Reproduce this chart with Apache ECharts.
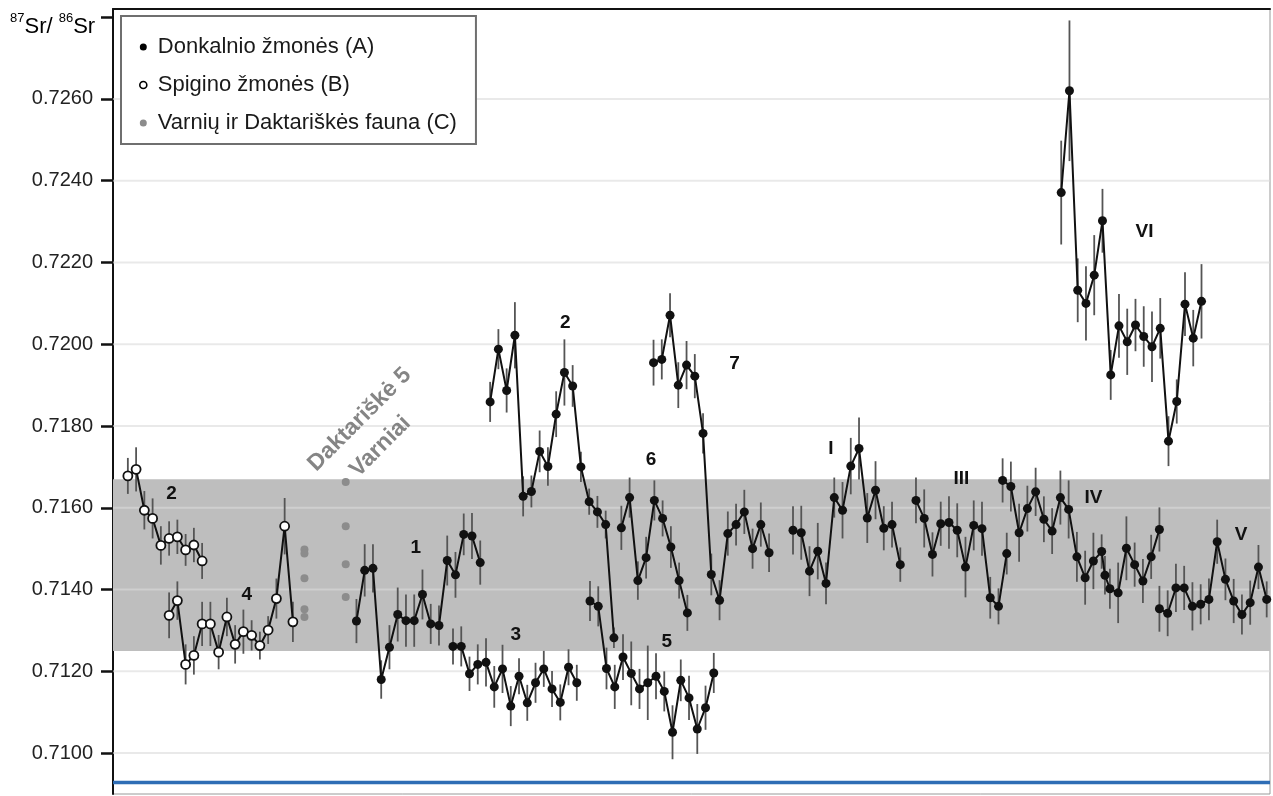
<!DOCTYPE html>
<html>
<head>
<meta charset="utf-8">
<title>87Sr/86Sr</title>
<script src="https://cdn.jsdelivr.net/npm/echarts@6/dist/echarts.min.js"></script>
<style>
  html, body { margin: 0; padding: 0; background: #fff; }
  #chart { width: 1273px; height: 796px; }
</style>
</head>
<body>
<div id="chart"></div>
<script>
// ---- Y axis ticks ----
const yTickValues  = [0.7100, 0.7120, 0.7140, 0.7160, 0.7180, 0.7200, 0.7220, 0.7240, 0.7260, 0.7280];
const yLabelValues = [0.7100, 0.7120, 0.7140, 0.7160, 0.7180, 0.7200, 0.7220, 0.7240, 0.7260];

// ---- Reference band and baseline ----
const bandRange = [0.7125, 0.7167];
const baselineValue = 0.70928;

// ---- Spigino žmonės (B) ----
const spigino2Start = 1.8;
const spigino2 =    [0.71678, 0.71694, 0.71594, 0.71574, 0.71508, 0.71525, 0.71529, 0.71497, 0.71509, 0.71470];
const spigino2Err = [0.00044, 0.00054, 0.00047, 0.00049, 0.00047, 0.00042, 0.00042, 0.00039, 0.00042, 0.00044];
const spigino4Start = 6.8;
const spigino4 =    [0.71337, 0.71373, 0.71217, 0.71239, 0.71316, 0.71316, 0.71247, 0.71333, 0.71266, 0.71297, 0.71288, 0.71263, 0.71301, 0.71378, 0.71555, 0.71321];
const spigino4Err = [0.00056, 0.00047, 0.00049, 0.00047, 0.00054, 0.00054, 0.00042, 0.00047, 0.00047, 0.00054, 0.00037, 0.00034, 0.00034, 0.00049, 0.00069, 0.00049];

// ---- Varnių ir Daktariškės fauna (C) ----
const faunaDaktariskePos = 23.2;
const faunaDaktariske = [0.71498, 0.71488, 0.71428, 0.71352, 0.71333];
const faunaVarniaiPos = 28.2;
const faunaVarniai = [0.71663, 0.71555, 0.71462, 0.71382];

// ---- Donkalnio žmonės (A) ----
const donk1Start = 29.5;
const donk1 =    [0.71323, 0.71447, 0.71452, 0.71180, 0.71259, 0.71339, 0.71324, 0.71324, 0.71388, 0.71316, 0.71312, 0.71471, 0.71436, 0.71535, 0.71531, 0.71466];
const donk1Err = [0.00054, 0.00064, 0.00059, 0.00047, 0.00054, 0.00066, 0.00064, 0.00064, 0.00061, 0.00049, 0.00049, 0.00061, 0.00056, 0.00051, 0.00056, 0.00054];

const donk3Start = 41.2;
const donk3 =    [0.71261, 0.71261, 0.71194, 0.71217, 0.71222, 0.71162, 0.71206, 0.71115, 0.71188, 0.71123, 0.71172, 0.71206, 0.71157, 0.71124, 0.71210, 0.71172];
const donk3Err = [0.00044, 0.00049, 0.00042, 0.00049, 0.00059, 0.00051, 0.00059, 0.00049, 0.00044, 0.00044, 0.00049, 0.00044, 0.00044, 0.00044, 0.00044, 0.00044];

const donk2Start = 45.7;
const donk2 =    [0.71859, 0.71988, 0.71887, 0.72022, 0.71628, 0.71640, 0.71738, 0.71701, 0.71829, 0.71931, 0.71898, 0.71700, 0.71615, 0.71590, 0.71559, 0.71282];
const donk2Err = [0.00049, 0.00049, 0.00054, 0.00081, 0.00049, 0.00039, 0.00051, 0.00047, 0.00056, 0.00081, 0.00051, 0.00037, 0.00032, 0.00039, 0.00034, 0.00025];

const donk5Start = 57.8;
const donk5 =    [0.71372, 0.71359, 0.71207, 0.71162, 0.71235, 0.71195, 0.71157, 0.71172, 0.71188, 0.71151, 0.71051, 0.71178, 0.71135, 0.71059, 0.71111, 0.71196];
const donk5Err = [0.00049, 0.00049, 0.00051, 0.00054, 0.00056, 0.00078, 0.00049, 0.00091, 0.00056, 0.00049, 0.00066, 0.00051, 0.00054, 0.00061, 0.00054, 0.00049];

const donk6Start = 61.6;
const donk6 =    [0.71551, 0.71625, 0.71422, 0.71478, 0.71618, 0.71574, 0.71504, 0.71422, 0.71343];
const donk6Err = [0.00054, 0.00049, 0.00047, 0.00051, 0.00049, 0.00044, 0.00051, 0.00044, 0.00044];

const donk7Start = 65.5;
const donk7 =    [0.71955, 0.71963, 0.72071, 0.71900, 0.71949, 0.71922, 0.71782, 0.71437, 0.71374, 0.71537, 0.71559, 0.71590, 0.71500, 0.71559, 0.71490];
const donk7Err = [0.00056, 0.00049, 0.00054, 0.00056, 0.00059, 0.00054, 0.00049, 0.00051, 0.00049, 0.00054, 0.00051, 0.00054, 0.00049, 0.00054, 0.00047];

const donkIStart = 82.4;
const donkI =    [0.71545, 0.71539, 0.71445, 0.71494, 0.71415, 0.71625, 0.71594, 0.71702, 0.71745, 0.71575, 0.71643, 0.71550, 0.71559, 0.71461];
const donkIErr = [0.00059, 0.00066, 0.00061, 0.00069, 0.00051, 0.00049, 0.00069, 0.00069, 0.00076, 0.00061, 0.00071, 0.00054, 0.00056, 0.00042];

const donkIIIStart = 97.3;
const donkIII =    [0.71618, 0.71574, 0.71486, 0.71561, 0.71564, 0.71545, 0.71455, 0.71557, 0.71549, 0.71380, 0.71359, 0.71488];
const donkIIIErr = [0.00056, 0.00071, 0.00054, 0.00054, 0.00064, 0.00066, 0.00074, 0.00061, 0.00066, 0.00051, 0.00044, 0.00051];

// group IV has two closely spaced samples, so its positions are listed
const donkIVPos = [107.8, 108.8, 109.8, 110.8, 111.8, 112.8, 113.8, 114.8, 115.8, 116.8, 117.8, 118.8, 119.8, 120.2, 120.8, 121.8, 122.8, 123.8, 124.8, 125.8, 126.8];
const donkIV =    [0.71667, 0.71652, 0.71539, 0.71598, 0.71639, 0.71572, 0.71543, 0.71625, 0.71596, 0.71480, 0.71429, 0.71470, 0.71493, 0.71435, 0.71402, 0.71392, 0.71501, 0.71461, 0.71421, 0.71480, 0.71547];
const donkIVErr = [0.00054, 0.00061, 0.00071, 0.00056, 0.00059, 0.00056, 0.00056, 0.00066, 0.00071, 0.00061, 0.00066, 0.00069, 0.00042, 0.00047, 0.00049, 0.00074, 0.00078, 0.00054, 0.00054, 0.00054, 0.00054];

const donkVStart = 126.8;
const donkV =    [0.71353, 0.71342, 0.71404, 0.71404, 0.71359, 0.71364, 0.71376, 0.71517, 0.71425, 0.71372, 0.71339, 0.71368, 0.71455, 0.71376];
const donkVErr = [0.00056, 0.00056, 0.00059, 0.00054, 0.00059, 0.00049, 0.00051, 0.00054, 0.00051, 0.00054, 0.00049, 0.00054, 0.00054, 0.00044];

const donkVIStart = 114.9;
const donkVI =    [0.72371, 0.72620, 0.72132, 0.72100, 0.72169, 0.72302, 0.71925, 0.72045, 0.72006, 0.72047, 0.72019, 0.71994, 0.72039, 0.71763, 0.71860, 0.72098, 0.72015, 0.72105];
const donkVIErr = [0.00127, 0.00172, 0.00078, 0.00091, 0.00098, 0.00078, 0.00061, 0.00078, 0.00081, 0.00064, 0.00074, 0.00086, 0.00074, 0.00061, 0.00054, 0.00078, 0.00069, 0.00091];

// ---- Group labels (text, sample position, ratio) ----
const groupLabelText = ['2', '4', '1', '3', '2', '6', '5', '7', 'I', 'III', 'IV', 'V', 'VI'];
const groupLabelPos  = [7.1, 16.2, 36.7, 48.8, 54.8, 65.2, 67.1, 75.3, 87.0, 102.8, 118.8, 136.7, 125.0];
const groupLabelVal  = [0.71635, 0.71388, 0.71502, 0.71290, 0.72053, 0.71718, 0.71272, 0.71953, 0.71745, 0.71671, 0.71625, 0.71533, 0.72275];

// ---- Site names ----
const siteText = ['Daktariškė 5', 'Varniai'];
const sitePos  = [29.9, 32.4];
const siteVal  = [0.71816, 0.71750];

const NAME_A = 'Donkalnio žmonės (A)';
const NAME_B = 'Spigino žmonės (B)';
const NAME_C = 'Varnių ir Daktariškės fauna (C)';
const FONT = '"Liberation Sans", Arial, Helvetica, sans-serif';

function points(start, vals, pos) {
  return vals.map((v, i) => [pos ? pos[i] : start + i, v]);
}
function bars(start, vals, errs, pos) {
  return vals.map((v, i) => [pos ? pos[i] : start + i, v - errs[i], v + errs[i]]);
}

const spiginoGroups = [
  [spigino2Start, spigino2, spigino2Err],
  [spigino4Start, spigino4, spigino4Err]
];
const donkGroups = [
  [donk1Start, donk1, donk1Err],
  [donk3Start, donk3, donk3Err],
  [donk2Start, donk2, donk2Err],
  [donk5Start, donk5, donk5Err],
  [donk6Start, donk6, donk6Err],
  [donk7Start, donk7, donk7Err],
  [donkIStart, donkI, donkIErr],
  [donkIIIStart, donkIII, donkIIIErr],
  [null, donkIV, donkIVErr, donkIVPos],
  [donkVStart, donkV, donkVErr],
  [donkVIStart, donkVI, donkVIErr]
];

const errData = [];
[...spiginoGroups, ...donkGroups].forEach(g => errData.push(...bars(g[0], g[1], g[2], g[3])));

// full-width horizontal rule at a y value
function hRule(color, width) {
  return function (params, api) {
    const cs = params.coordSys;
    const y = api.coord([0, api.value(1)])[1];
    return {
      type: 'line',
      shape: { x1: cs.x, y1: y, x2: cs.x + cs.width, y2: y },
      style: { stroke: color, lineWidth: width }
    };
  };
}

const series = [];

// grey band
series.push({
  type: 'line', data: [], silent: true,
  markArea: {
    silent: true, z: 0.5,
    itemStyle: { color: '#bebebe' },
    data: [[{ yAxis: bandRange[0] }, { yAxis: bandRange[1] }]]
  }
});
// grid lines
series.push({
  type: 'custom', silent: true, z: 1,
  data: yLabelValues.map(v => [0, v]),
  encode: { x: 0, y: 1 },
  renderItem: hRule('rgba(218,218,218,0.6)', 2)
});
// baseline
series.push({
  type: 'custom', silent: true, z: 1,
  data: [[0, baselineValue]],
  encode: { x: 0, y: 1 },
  renderItem: hRule('#2e6db5', 3.5)
});
// error bars
series.push({
  type: 'custom', silent: true, z: 2,
  data: errData,
  encode: { x: 0, y: [1, 2] },
  renderItem: function (params, api) {
    const x = api.value(0);
    const a = api.coord([x, api.value(1)]);
    const b = api.coord([x, api.value(2)]);
    return {
      type: 'line',
      shape: { x1: a[0], y1: a[1], x2: b[0], y2: b[1] },
      style: { stroke: '#555', lineWidth: 1.8 }
    };
  }
});
// Donkalnio groups
donkGroups.forEach(g => {
  series.push({
    name: NAME_A, type: 'line', z: 3,
    data: points(g[0], g[1], g[3]),
    symbol: 'circle', symbolSize: 9, showSymbol: true,
    lineStyle: { color: '#111', width: 2 },
    itemStyle: { color: '#111', borderWidth: 0 }
  });
});
// Spigino groups
spiginoGroups.forEach(g => {
  series.push({
    name: NAME_B, type: 'line', z: 3,
    data: points(g[0], g[1]),
    symbol: 'circle', symbolSize: 9, showSymbol: true,
    lineStyle: { color: '#111', width: 2 },
    itemStyle: { color: '#fff', borderColor: '#111', borderWidth: 1.8 }
  });
});
// fauna
series.push({
  name: NAME_C, type: 'scatter', z: 3,
  symbol: 'circle', symbolSize: 8,
  itemStyle: { color: '#8c8c8c', opacity: 1 },
  data: faunaDaktariske.map(v => [faunaDaktariskePos, v]).concat(faunaVarniai.map(v => [faunaVarniaiPos, v]))
});
// group labels
series.push({
  type: 'scatter', silent: true, z: 4, symbolSize: 0,
  itemStyle: { opacity: 1 },
  data: groupLabelText.map((t, i) => ({ name: t, value: [groupLabelPos[i], groupLabelVal[i]] })),
  label: {
    show: true, position: 'inside', formatter: '{b}', opacity: 1, textBorderWidth: 0,
    fontFamily: FONT, fontWeight: 'bold', fontSize: 19, color: '#111'
  }
});
// site names
series.push({
  type: 'scatter', silent: true, z: 4, symbolSize: 0,
  itemStyle: { opacity: 1 },
  data: siteText.map((t, i) => ({ name: t, value: [sitePos[i], siteVal[i]] })),
  label: {
    show: true, position: 'inside', formatter: '{b}', rotate: 45, opacity: 1, textBorderWidth: 0,
    fontFamily: FONT, fontWeight: 'bold', fontSize: 23, color: '#858585'
  }
});

const chart = echarts.init(document.getElementById('chart'), null, { renderer: 'canvas' });
chart.setOption({
  animation: false,
  backgroundColor: '#fff',
  grid: {
    left: 113, right: 3, top: 9, bottom: 2,
    show: true, borderColor: '#999', borderWidth: 1, backgroundColor: 'transparent'
  },
  xAxis: {
    type: 'value', min: 0, max: 140.2, position: 'top',
    axisLine: { show: true, lineStyle: { color: '#111', width: 2 } },
    axisTick: { show: false }, axisLabel: { show: false }, splitLine: { show: false }
  },
  yAxis: {
    type: 'value', min: 0.709, max: 0.7282,
    axisLine: { show: true, lineStyle: { color: '#111', width: 2 } },
    axisTick: { show: true, length: 12, customValues: yTickValues, lineStyle: { color: '#111', width: 2.5 } },
    axisLabel: {
      customValues: yLabelValues, margin: 20,
      formatter: v => v.toFixed(4),
      fontFamily: FONT, fontSize: 20, color: '#222'
    },
    splitLine: { show: false }
  },
  legend: {
    data: [
      { name: NAME_A, icon: 'circle', itemStyle: { color: '#000', borderWidth: 0 } },
      { name: NAME_B, icon: 'circle', itemStyle: { color: '#fff', borderColor: '#000', borderWidth: 1.6 } },
      { name: NAME_C, icon: 'circle', itemStyle: { color: '#8c8c8c', borderWidth: 0 } }
    ],
    orient: 'vertical', left: 121, top: 16,
    itemWidth: 19, itemHeight: 7, itemGap: 16,
    padding: [20, 19, 10, 18],
    borderColor: '#6f6f6f', borderWidth: 2, backgroundColor: '#fff',
    selectedMode: false,
    textStyle: { fontFamily: FONT, fontSize: 22, color: '#1a1a1a' }
  },
  graphic: [{
    type: 'text', left: 10, top: 12, z: 10,
    style: {
      text: '{s|87}{b|Sr/ }{s|86}{b|Sr}',
      rich: {
        s: { fontFamily: FONT, fontSize: 13, color: '#1a1a1a', verticalAlign: 'top', lineHeight: 26 },
        b: { fontFamily: FONT, fontSize: 22, color: '#1a1a1a', verticalAlign: 'bottom', lineHeight: 26 }
      }
    }
  }],
  series: series
});
</script>
</body>
</html>
